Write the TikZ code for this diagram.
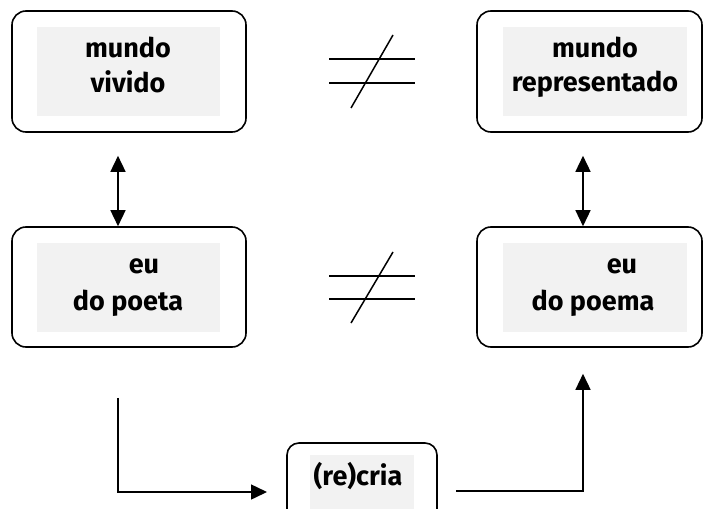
\documentclass[tikz,border=0pt]{standalone}
\usepackage{fontspec}
\setmainfont{Fira Sans}
\usetikzlibrary{arrows.meta}
\definecolor{graybg}{HTML}{F2F2F2}
\begin{document}
\begin{tikzpicture}[x=1pt,y=-1pt,
  box/.style={draw, line width=1.6pt, rounded corners=14pt, inner sep=0pt},
  bg/.style={fill=graybg, inner sep=0pt},
  txt/.style={font=\bfseries\fontsize{27}{30}\selectfont, anchor=base, inner sep=0pt},
  con/.style={line width=1.5pt},
  tip/.style={-{Triangle[length=16pt,width=15pt]}},
  dtip/.style={{Triangle[length=16pt,width=15pt]}-{Triangle[length=16pt,width=15pt]}}]
\useasboundingbox (0,0) rectangle (703,508);
\clip (0,0) rectangle (703,508);
% boxes
\node[box, minimum width=234pt, minimum height=121pt] (b1) at (129,71.5) {};
\node[bg, minimum width=183pt, minimum height=89pt] (g1) at (128.5,71.5) {};
\node[box, minimum width=225pt, minimum height=121pt] (b2) at (589.5,71.5) {};
\node[bg, minimum width=184pt, minimum height=89pt] (g2) at (595,71.5) {};
\node[box, minimum width=234pt, minimum height=120pt] (b3) at (129,287) {};
\node[bg, minimum width=183pt, minimum height=89pt] (g3) at (128.5,287.5) {};
\node[box, minimum width=225pt, minimum height=120pt] (b4) at (589.5,287) {};
\node[bg, minimum width=184pt, minimum height=89pt] (g4) at (595,287.5) {};
\node[box, rounded corners=12pt, minimum width=150pt, minimum height=97pt] (rc) at (362,491.5) {};
\node[bg, minimum width=104pt, minimum height=65pt] (grc) at (362,487.5) {};
% texts
\node[txt] (t1a) at (128,58) {mundo};
\node[txt] (t1b) at (128,93) {vivido};
\node[txt] (t2a) at (595,58) {mundo};
\node[txt] (t2b) at (595,92) {representado};
\node[txt] (t3a) at (144,273) {eu};
\node[txt] (t3b) at (128,310) {do poeta};
\node[txt] (t4a) at (622,273) {eu};
\node[txt] (t4b) at (593,310) {do poema};
\node[txt] (t5) at (358,485) {(re)cria};
% not-equal signs
\draw[con] (329,59) -- (415,59);
\draw[con] (329,83) -- (415,83);
\draw[con] (351,108) -- (393,35);
\draw[con] (329,276) -- (415,276);
\draw[con] (329,299) -- (415,299);
\draw[con] (351,323) -- (393,252);
% vertical double arrows
\draw[con, dtip] ([xshift=-11pt, yshift=-23pt]b1.south) -- ([xshift=-11pt]b3.north);
\draw[con, dtip] ([xshift=-6.5pt, yshift=-23pt]b2.south) -- ([xshift=-6.5pt]b4.north);
% bottom connectors
\coordinate (p1) at ([xshift=-11pt, yshift=-50pt]b3.south);
\coordinate (p2) at (267,492);
\coordinate (p3) at (456,491);
\coordinate (p4) at ([xshift=-6.5pt, yshift=-26pt]b4.south);
\draw[con, tip] (p1) |- (p2);
\draw[con, tip] (p3) -| (p4);
\end{tikzpicture}
\end{document}
